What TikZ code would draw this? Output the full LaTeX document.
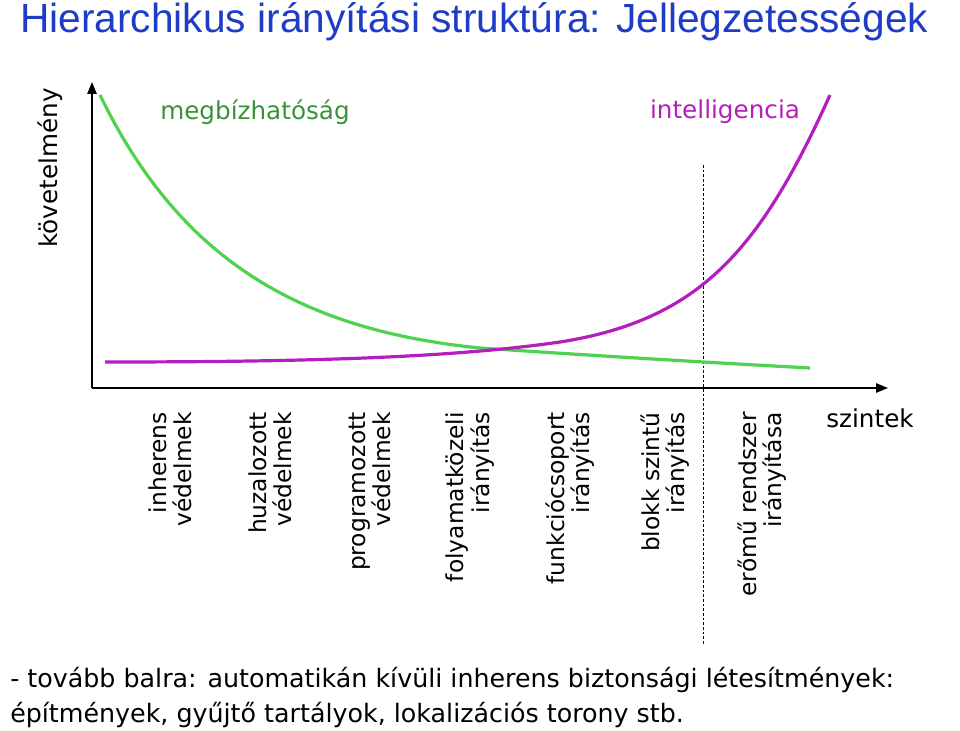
\documentclass[tikz,border=0pt]{standalone}
\usepackage{fontspec}
\setmainfont{DejaVu Sans}
\newfontfamily\titlefont{Liberation Sans}
\usetikzlibrary{arrows.meta}
\definecolor{ttl}{RGB}{30,60,200}
\definecolor{grn}{RGB}{80,210,80}
\definecolor{prp}{RGB}{180,30,190}
\tikzset{lvl/.style={rotate=90,anchor=east,align=right,font=\fontsize{17.5}{19}\selectfont,inner sep=0pt},
ax/.style={line width=1.4pt,-{Triangle[length=9pt,width=7pt]}}}
\begin{document}
\begin{tikzpicture}[x=0.75pt,y=-0.75pt]
\useasboundingbox (0,0) rectangle (960,731);
\node[anchor=west,text=ttl,font=\titlefont\fontsize{30.5}{34}\selectfont,inner sep=0pt] (t) at (20,22) {Hierarchikus irányítási struktúra: Jellegzetességek};
\coordinate (o) at (92,388);
\coordinate (yt) at (92,82);
\coordinate (xt) at (888,388);
\draw[ax] (o) -- (yt);
\draw[ax] (o) -- (xt);
\node[rotate=90,font=\fontsize{18.5}{20}\selectfont] (kov) at (50,168) {követelmény};
\node[text=grn!70!black,font=\fontsize{18.5}{20}\selectfont] (m) at (255,112) {megbízhatóság};
\node[text=prp,font=\fontsize{18.5}{20}\selectfont] (i) at (725,112) {intelligencia};
\coordinate (d1) at (703,165); \coordinate (d2) at (703,645);
\draw[dashed,line width=0.5pt,dash pattern=on 2pt off 1.5pt] (d1) -- (d2);
\draw[grn,line width=2.4pt] (100,95) .. controls (180,260) and (300,330) .. (480,348) .. controls (600,356) and (700,362) .. (810,368);
\draw[prp,line width=2.4pt] (105,362) .. controls (300,362) and (450,358) .. (560,342) .. controls (700,320) and (760,250) .. (830,95);
\node[lvl] (l1) at (170,412) {inherens\\védelmek};
\node[lvl] (l2) at (270,412) {huzalozott\\védelmek};
\node[lvl] (l3) at (370,412) {programozott\\védelmek};
\node[lvl] (l4) at (470,412) {folyamatközeli\\irányítás};
\node[lvl] (l5) at (570,412) {funkciócsoport\\irányítás};
\node[lvl] (l6) at (665,412) {blokk szintű\\irányítás};
\node[lvl] (l7) at (762,412) {erőmű rendszer\\irányítása};
\node[font=\fontsize{18.5}{20}\selectfont] (sz) at (870,418) {szintek};
\node[anchor=north west,align=left,font=\fontsize{19}{26}\selectfont,inner sep=0pt] (b) at (10,667) {- tovább balra: automatikán kívüli inherens biztonsági létesítmények:\\ építmények, gyűjtő tartályok, lokalizációs torony stb.};
\end{tikzpicture}
\end{document}
